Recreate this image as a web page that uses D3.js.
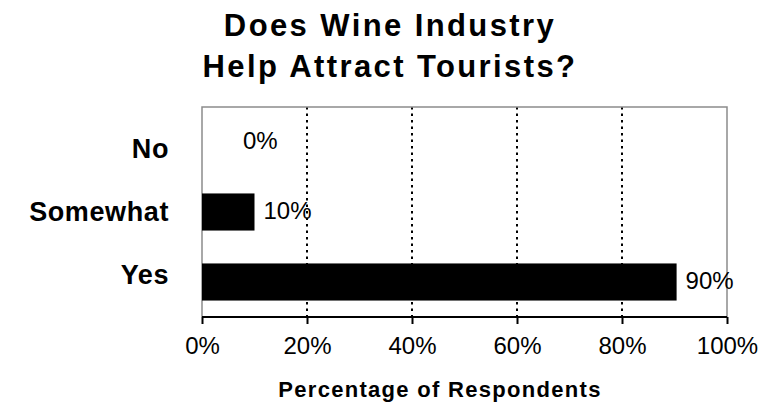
<!DOCTYPE html>
<html>
<head>
<meta charset="utf-8">
<script src="https://cdn.jsdelivr.net/npm/d3@7"></script>
<style>
  body { margin: 0; background: #fff; }
  text { font-family: "Liberation Sans", Arial, sans-serif; fill: #000; }
</style>
</head>
<body>
<svg id="bar-svg"></svg>
<script>
// chart values
const categories = ["No", "Somewhat", "Yes"];
const percents = [0, 10, 90.4];
const xTicks = [0, 20, 40, 60, 80, 100];
const titleLines = ["Does Wine Industry", "Help Attract Tourists?"];
const xTitle = "Percentage of Respondents";

const width = 765;
const height = 409;

let svg = d3.select("#bar-svg")
    .attr("width", width)
    .attr("height", height);

const plot = { left: 202, right: 727, top: 107, bottom: 317 };

const xScale = d3.scaleLinear()
    .domain([0, 100])
    .range([plot.left, plot.right]);

const yScale = d3.scaleBand()
    .domain(categories)
    .range([plot.top, plot.bottom])
    .paddingInner(0.47)
    .paddingOuter(0.235);

// title
svg.append("g").selectAll("text")
    .data(titleLines)
    .enter().append("text")
    .attr("x", 390)
    .attr("y", (d, i) => 36 + i * 41)
    .attr("text-anchor", "middle")
    .style("font-size", "31px")
    .style("font-weight", "bold")
    .style("letter-spacing", "2.4px")
    .text(d => d);

// dotted gridlines
svg.append("g").selectAll("line")
    .data(xTicks.filter(t => t > 0 && t < 100))
    .enter().append("line")
    .attr("x1", d => xScale(d))
    .attr("x2", d => xScale(d))
    .attr("y1", plot.top)
    .attr("y2", plot.bottom)
    .attr("stroke", "#000")
    .attr("stroke-width", 2)
    .attr("stroke-dasharray", "2.5 4");

// plot border (left, top, right)
svg.append("path")
    .attr("d", `M${plot.left},${plot.bottom} V${plot.top} H${plot.right} V${plot.bottom}`)
    .attr("fill", "none")
    .attr("stroke", "#8c8c8c")
    .attr("stroke-width", 1.5);

// bars
svg.append("g").selectAll("rect")
    .data(percents)
    .enter().append("rect")
    .attr("x", xScale(0))
    .attr("y", (d, i) => yScale(categories[i]))
    .attr("width", d => xScale(d) - xScale(0))
    .attr("height", yScale.bandwidth())
    .attr("fill", "#000");

// value labels
svg.append("g").selectAll("text")
    .data(percents)
    .enter().append("text")
    .attr("x", d => xScale(d) + (d === 0 ? 41 : 9))
    .attr("y", (d, i) => yScale(categories[i]) + yScale.bandwidth() / 2)
    .attr("dy", "0.3em")
    .style("font-size", "24px")
    .text(d => Math.round(d) + "%");

// category labels (sit a bit closer to the middle than the bars do)
const midY = (plot.top + plot.bottom) / 2;
svg.append("g").selectAll("text")
    .data(categories)
    .enter().append("text")
    .attr("x", 169)
    .attr("y", d => midY + (yScale(d) + yScale.bandwidth() / 2 - midY) * 0.9)
    .attr("dy", "0.35em")
    .attr("text-anchor", "end")
    .style("font-size", "27px")
    .style("font-weight", "bold")
    .style("letter-spacing", "0.6px")
    .text(d => d);

// x axis
const xAxis = svg.append("g")
    .attr("transform", `translate(0,${plot.bottom})`)
    .call(d3.axisBottom(xScale)
        .tickValues(xTicks)
        .tickSize(7)
        .tickPadding(13)
        .tickFormat(d => d + "%"));

xAxis.select(".domain")
    .attr("stroke", "#000")
    .attr("stroke-width", 2)
    .attr("d", `M${plot.left},0 H${plot.right}`);
xAxis.selectAll(".tick line")
    .attr("stroke", "#000")
    .attr("stroke-width", 2);
xAxis.selectAll(".tick text")
    .style("font-size", "24px")
    .style("font-family", "'Liberation Sans', Arial, sans-serif")
    .attr("fill", "#000");

svg.append("text")
    .attr("x", 440)
    .attr("y", 397)
    .attr("text-anchor", "middle")
    .style("font-size", "22px")
    .style("font-weight", "bold")
    .style("letter-spacing", "1.3px")
    .text(xTitle);
</script>
</body>
</html>
